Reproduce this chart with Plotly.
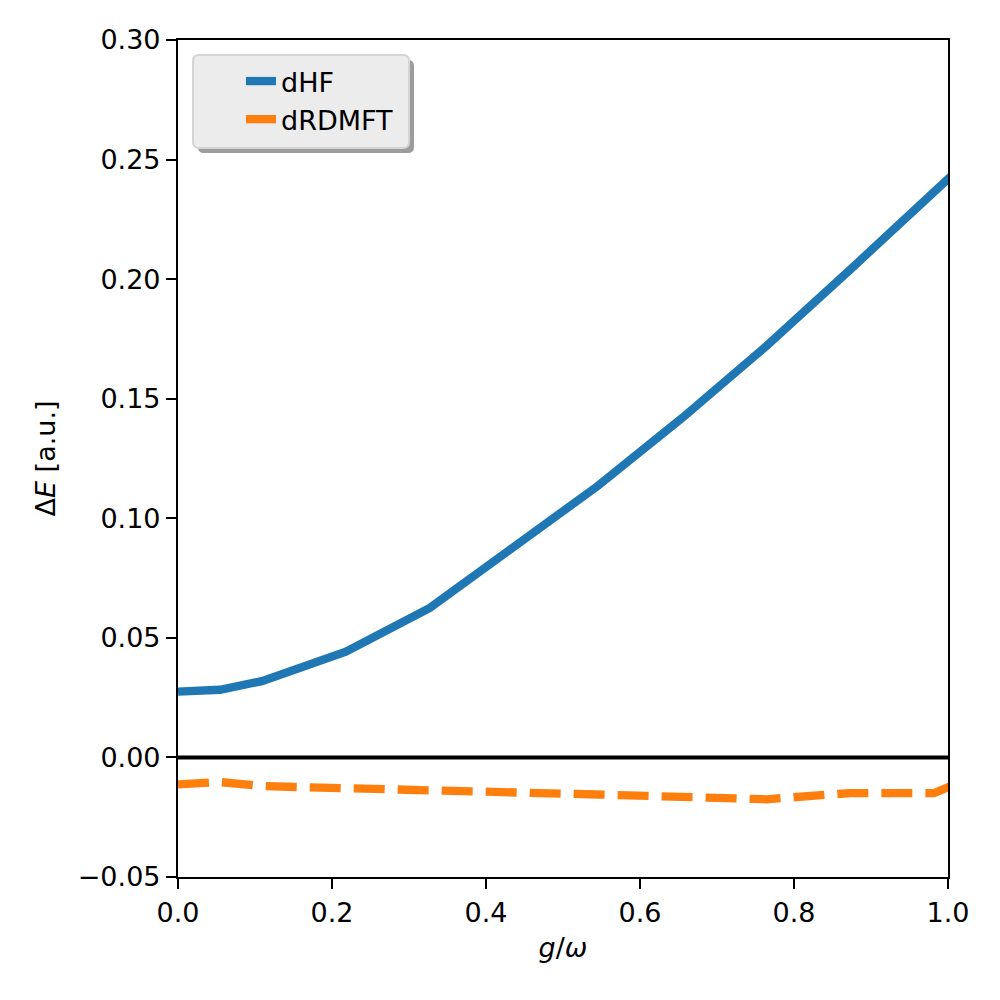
import plotly.graph_objects as go

# ---- data ----
g_omega = [0.0, 0.0545, 0.109, 0.218, 0.327, 0.436, 0.545, 0.655, 0.764, 0.873, 0.982, 1.091]
dHF = [0.0275, 0.0283, 0.0319, 0.0442, 0.0625, 0.0875, 0.1135, 0.1420, 0.1720, 0.2040, 0.2365, 0.2690]
dRDMFT = [-0.0113, -0.0103, -0.0120, -0.0127, -0.0135, -0.0145, -0.0155, -0.0165, -0.0175, -0.0149, -0.0149, 0.0]
zero_line_x = [0.0, 1.0]
zero_line_y = [0.0, 0.0]
x_ticks = [0.0, 0.2, 0.4, 0.6, 0.8, 1.0]
y_ticks = [-0.05, 0.0, 0.05, 0.10, 0.15, 0.20, 0.25, 0.30]
y_ticklabels = ["\u22120.05", "0.00", "0.05", "0.10", "0.15", "0.20", "0.25", "0.30"]
x_ticklabels = ["0.0", "0.2", "0.4", "0.6", "0.8", "1.0"]

W, H = 1000, 1000
L, R, T, B = 178, 948, 40, 877

FONT = "DejaVu Sans"
FS = 27

fig = go.Figure()
fig.add_trace(go.Scatter(x=zero_line_x, y=zero_line_y, mode="lines",
                         line=dict(color="black", width=4), showlegend=False,
                         hoverinfo="skip"))
fig.add_trace(go.Scatter(x=g_omega, y=dHF, mode="lines", name="dHF",
                         line=dict(color="#1f77b4", width=8.3)))
fig.add_trace(go.Scatter(x=g_omega, y=dRDMFT, mode="lines", name="dRDMFT",
                         line=dict(color="#ff7f0e", width=8.3, dash="31px,13px")))


def px2paper(px, py):
    return (px - L) / (R - L), (B - py) / (B - T)


def rounded_rect(x0, y0, x1, y1, r):
    def P(px, py):
        a, b = px2paper(px, py)
        return f"{a:.5f},{b:.5f}"
    return ("M " + P(x0 + r, y0) + " L " + P(x1 - r, y0) + " Q " + P(x1, y0) + " " + P(x1, y0 + r)
            + " L " + P(x1, y1 - r) + " Q " + P(x1, y1) + " " + P(x1 - r, y1)
            + " L " + P(x0 + r, y1) + " Q " + P(x0, y1) + " " + P(x0, y1 - r)
            + " L " + P(x0, y0 + r) + " Q " + P(x0, y0) + " " + P(x0 + r, y0) + " Z")


shapes = [
    dict(type="path", xref="paper", yref="paper", layer="above",
         path=rounded_rect(198, 60, 414, 153, 6), fillcolor="#9c9c9c",
         line=dict(width=0)),
    dict(type="path", xref="paper", yref="paper", layer="above",
         path=rounded_rect(193, 55, 409, 148, 6), fillcolor="#ececec",
         line=dict(color="#d4d4d4", width=2)),
]

lx, ly = px2paper(241, 57)

fig.update_layout(
    width=W, height=H,
    margin=dict(l=L, r=W - R, t=T, b=H - B),
    paper_bgcolor="white", plot_bgcolor="white",
    font=dict(family=FONT, size=FS, color="black"),
    shapes=shapes,
    showlegend=True,
    legend=dict(x=lx, y=ly, xanchor="left", yanchor="top",
                bgcolor="rgba(0,0,0,0)", borderwidth=0,
                font=dict(family=FONT, size=FS, color="black"),
                tracegroupgap=0),
    xaxis=dict(range=[0, 1], tickmode="array", tickvals=x_ticks, ticktext=x_ticklabels,
               ticks="outside", ticklen=10, tickwidth=2.2, tickcolor="black",
               showline=True, linecolor="black", linewidth=2.2, mirror=True,
               showgrid=False, zeroline=False,
               tickfont=dict(family=FONT, size=FS),
               title=dict(text="<i>g</i>/<i>ω</i>", font=dict(family=FONT, size=FS), standoff=12)),
    yaxis=dict(range=[-0.05, 0.30], tickmode="array", tickvals=y_ticks, ticktext=y_ticklabels,
               ticks="outside", ticklen=10, tickwidth=2.2, tickcolor="black",
               showline=True, linecolor="black", linewidth=2.2, mirror=True,
               showgrid=False, zeroline=False,
               tickfont=dict(family=FONT, size=FS),
               title=dict(text="Δ<i>E</i> [a.u.]", font=dict(family=FONT, size=FS), standoff=14)),
)

fig.write_html("out.html")
